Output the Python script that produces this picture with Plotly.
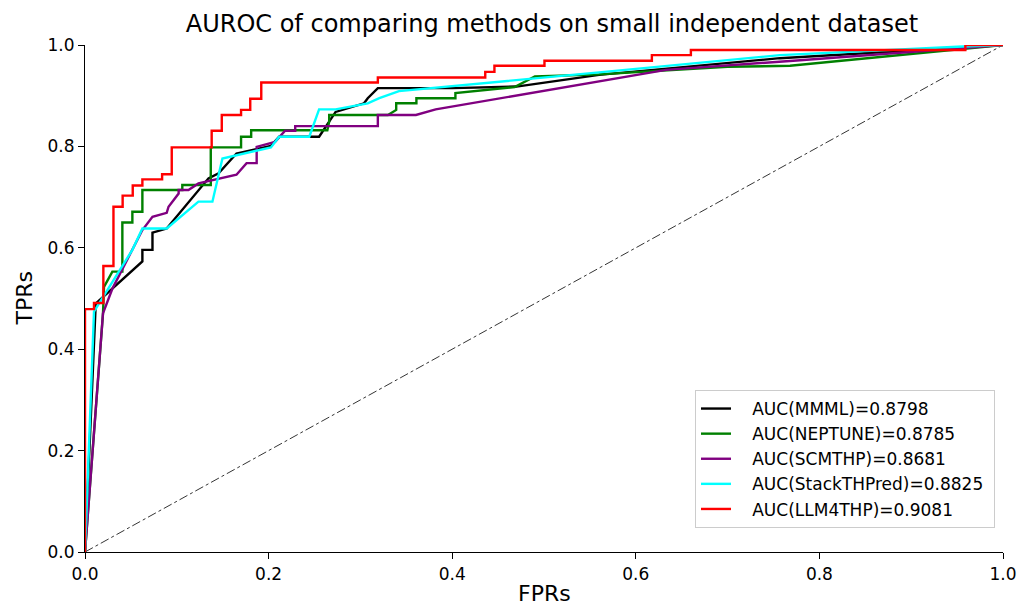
import plotly.graph_objects as go

# ---- data ----
mmml_fpr = [0.0, 0.0117, 0.0625, 0.0625, 0.0735, 0.0735, 0.089, 0.1345, 0.1455, 0.165, 0.2025, 0.2115, 0.255, 0.273, 0.304, 0.308, 0.319, 0.40, 0.47, 0.56, 0.757, 0.96, 1.0]
mmml_tpr = [0.0, 0.490, 0.573, 0.596, 0.596, 0.630, 0.638, 0.737, 0.747, 0.786, 0.801, 0.819, 0.819, 0.868, 0.885, 0.895, 0.915, 0.915, 0.918, 0.941, 0.974, 0.995, 1.0]

nep_fpr = [0.0, 0.0196, 0.0207, 0.0298, 0.0407, 0.0407, 0.0516, 0.0516, 0.0625, 0.0625, 0.106, 0.106, 0.137, 0.137, 0.170, 0.170, 0.181, 0.181, 0.264, 0.266, 0.266, 0.330, 0.339, 0.339, 0.361, 0.361, 0.4035, 0.4035, 0.468, 0.477, 0.49, 0.56, 0.70, 0.768, 1.0]
nep_tpr = [0.0, 0.47, 0.523, 0.553, 0.553, 0.650, 0.650, 0.671, 0.671, 0.714, 0.714, 0.724, 0.724, 0.798, 0.798, 0.819, 0.819, 0.832, 0.832, 0.849, 0.862, 0.862, 0.872, 0.885, 0.885, 0.895, 0.895, 0.905, 0.917, 0.925, 0.938, 0.942, 0.957, 0.959, 1.0]

scm_fpr = [0.0, 0.0196, 0.030, 0.0625, 0.0735, 0.089, 0.091, 0.102, 0.102, 0.1127, 0.1236, 0.165, 0.176, 0.187, 0.187, 0.207, 0.218, 0.229, 0.229, 0.319, 0.319, 0.3605, 0.382, 0.633, 0.779, 0.96, 1.0]
scm_tpr = [0.0, 0.471, 0.520, 0.635, 0.661, 0.669, 0.681, 0.707, 0.714, 0.714, 0.727, 0.744, 0.767, 0.767, 0.799, 0.809, 0.831, 0.831, 0.840, 0.840, 0.862, 0.862, 0.873, 0.951, 0.970, 0.995, 1.0]

stk_fpr = [0.0, 0.0098, 0.0516, 0.0625, 0.089, 0.1236, 0.1388, 0.1497, 0.2025, 0.2115, 0.2443, 0.255, 0.273, 0.308, 0.3206, 0.342, 0.56, 0.757, 0.956, 1.0]
stk_tpr = [0.0, 0.474, 0.596, 0.638, 0.638, 0.691, 0.691, 0.776, 0.798, 0.819, 0.819, 0.873, 0.873, 0.885, 0.895, 0.909, 0.946, 0.980, 0.997, 1.0]

llm_fpr = [0.0, 0.0, 0.0098, 0.0098, 0.020, 0.020, 0.031, 0.031, 0.041, 0.041, 0.052, 0.052, 0.0625, 0.0625, 0.084, 0.084, 0.0945, 0.0945, 0.138, 0.138, 0.149, 0.149, 0.170, 0.170, 0.180, 0.180, 0.192, 0.192, 0.319, 0.319, 0.436, 0.436, 0.446, 0.446, 0.5005, 0.5005, 0.6175, 0.6175, 0.660, 0.660, 0.959, 0.959, 1.0]
llm_tpr = [0.0, 0.479, 0.479, 0.491, 0.491, 0.564, 0.564, 0.681, 0.681, 0.703, 0.703, 0.723, 0.723, 0.735, 0.735, 0.745, 0.745, 0.798, 0.798, 0.831, 0.831, 0.862, 0.862, 0.872, 0.872, 0.894, 0.894, 0.926, 0.926, 0.936, 0.936, 0.947, 0.947, 0.959, 0.959, 0.969, 0.969, 0.980, 0.980, 0.990, 0.990, 1.0, 1.0]

series_names = ["AUC(MMML)=0.8798", "AUC(NEPTUNE)=0.8785", "AUC(SCMTHP)=0.8681",
                "AUC(StackTHPred)=0.8825", "AUC(LLM4THP)=0.9081"]
series_x = [mmml_fpr, nep_fpr, scm_fpr, stk_fpr, llm_fpr]
series_y = [mmml_tpr, nep_tpr, scm_tpr, stk_tpr, llm_tpr]
series_colors = ["#000000", "#008000", "#800080", "#00FFFF", "#FF0000"]

diag = [0.0, 1.0]
tick_vals = [0.0, 0.2, 0.4, 0.6, 0.8, 1.0]
tick_text = ["0.0", "0.2", "0.4", "0.6", "0.8", "1.0"]

FONT = "DejaVu Sans"
W, H = 1019, 609
L, R, T, B = 85, 16, 45, 57
PW, PH = W - L - R, H - T - B
PAD = "\u00a0\u00a0\u00a0"

fig = go.Figure()
fig.add_trace(go.Scatter(x=diag, y=diag, mode="lines", showlegend=False,
                         line=dict(color="black", width=0.8, dash="dashdot"),
                         hoverinfo="skip"))
for xs, ys, name, col in zip(series_x, series_y, series_names, series_colors):
    fig.add_trace(go.Scatter(x=xs, y=ys, mode="lines", name=PAD + name + "\u00a0",
                             line=dict(color=col, width=2.4)))

axis_common = dict(
    tickmode="array", tickvals=tick_vals, ticktext=tick_text,
    showgrid=False, zeroline=False, showline=True, linecolor="black", linewidth=1.2,
    ticks="outside", ticklen=6, tickwidth=1.2, tickcolor="black",
    tickfont=dict(family=FONT, size=17, color="black"),
    range=[0, 1], mirror=False, automargin=False,
)

fig.update_layout(
    width=W, height=H,
    paper_bgcolor="white", plot_bgcolor="white",
    margin=dict(l=L, r=R, t=T, b=B),
    title=dict(text="AUROC of comparing methods on small independent dataset",
               x=552 / W, xanchor="center", y=1 - 24 / H, yanchor="middle",
               font=dict(family=FONT, size=24, color="black")),
    xaxis=axis_common,
    yaxis=axis_common,
    legend=dict(x=(995 - L) / PW, y=(552 - 528) / PH, xanchor="right", yanchor="bottom",
                bgcolor="white", bordercolor="#cccccc", borderwidth=1,
                font=dict(family=FONT, size=17, color="black"), tracegroupgap=0),
    showlegend=True,
    annotations=[
        dict(text="FPRs", xref="paper", yref="paper", x=0.5, y=(552 - 608) / PH,
             xanchor="center", yanchor="bottom", showarrow=False,
             font=dict(family=FONT, size=22, color="black")),
        dict(text="TPRs", xref="paper", yref="paper", x=(24 - L) / PW, y=0.5,
             xanchor="center", yanchor="middle", showarrow=False, textangle=-90,
             font=dict(family=FONT, size=22, color="black")),
    ],
)

fig.write_html("out.html")
